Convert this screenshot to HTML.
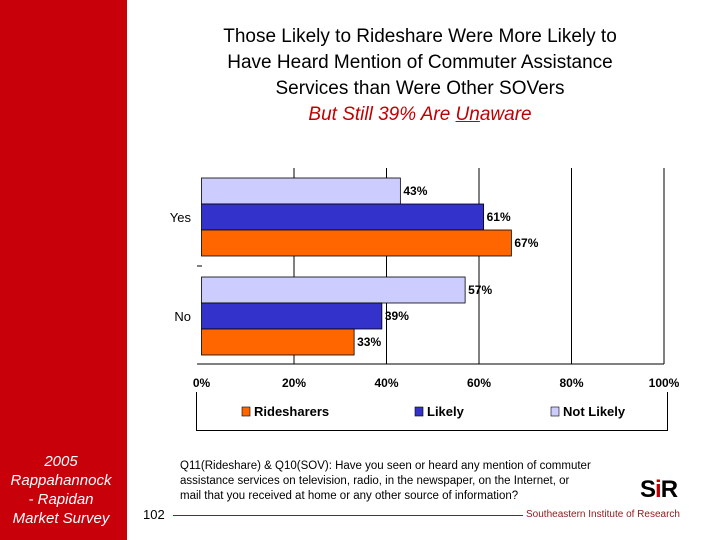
<!DOCTYPE html>
<html><head><meta charset="utf-8"><style>
body{margin:0;width:720px;height:540px;background:#fff;position:relative;overflow:hidden;font-family:"Liberation Sans",sans-serif}
.abs{position:absolute}
</style></head><body>
<div class="abs" style="left:0;top:0;width:127px;height:540px;background:#c8000a"></div>
<div class="abs" style="left:0;top:452px;width:122px;text-align:center;color:#fff;font-style:italic;font-size:15px;line-height:19px">2005<br>Rappahannock<br>- Rapidan<br>Market Survey</div>
<div class="abs" style="left:120px;top:24px;width:600px;text-align:center;font-size:19px;line-height:26px;color:#000">Those Likely to Rideshare Were More Likely to<br>Have Heard Mention of Commuter Assistance<br>Services than Were Other SOVers<br><span style="color:#c00000;font-style:italic">But Still 39% Are <u>Un</u>aware</span></div>
<svg class="abs" style="left:0;top:0" width="720" height="540" id="chart"></svg>
<div class="abs" style="left:180px;top:459px;width:460px;font-size:11.5px;line-height:15px;color:#000;white-space:nowrap">Q11(Rideshare) &amp; Q10(SOV): Have you seen or heard any mention of commuter<br>assistance services on television, radio, in the newspaper, on the Internet, or<br>mail that you received at home or any other source of information?</div>
<div class="abs" style="left:143px;top:507px;font-size:13px;color:#000">102</div>
<div class="abs" style="left:173px;top:515px;width:350px;height:1px;background:#8b1a1a"></div>
<div class="abs" style="left:526px;top:509px;font-size:10px;color:#8b1a1a">Southeastern Institute of Research</div>
<div class="abs" style="left:640px;top:476px;font-size:24px;font-weight:bold;color:#000;letter-spacing:-1px">S<span style="color:#c00000">i</span>R</div>
<script>
const categories=["Yes","No"];
const seriesNames=["Not Likely","Likely","Rideshares"];
const notLikely=[43,57];
const likely=[61,39];
const ridesharers=[67,33];
const ticks=[0,20,40,60,80,100];
const svg=document.getElementById('chart');
const NS='http://www.w3.org/2000/svg';
const x0=201.5,x1=664,yTop=168,yBot=364;
const xs=v=>x0+(x1-x0)*v/100;
function el(t,a){const e=document.createElementNS(NS,t);for(const k in a)e.setAttribute(k,a[k]);svg.appendChild(e);return e;}
ticks.forEach((t,i)=>{
 if(t>0){const g=el('line',{x1:xs(t),x2:xs(t),y1:yTop,y2:yBot,stroke:'#000','stroke-width':1});
 
 }
 const tx=el('text',{x:xs(t),y:387,'text-anchor':'middle','font-size':12,'font-weight':'bold','font-family':'Liberation Sans'});
 tx.textContent=t+'%';
 
 
});
const ax=el('line',{x1:197,x2:x1,y1:yBot,y2:yBot,stroke:'#000','stroke-width':1});


const tick=el('line',{x1:197,x2:202,y1:266,y2:266,stroke:'#000'});


const groupTop=[178,277],bh=26;
const series=[[notLikely,'#ccccff'],[likely,'#3333cc'],[ridesharers,'#ff6600']];
categories.forEach((c,ci)=>{
 const lab=el('text',{x:191,y:groupTop[ci]+bh*1.5+5,'text-anchor':'end','font-size':13,'font-family':'Liberation Sans'});
 lab.textContent=c;
 
 
 series.forEach((s,si)=>{
  const v=s[0][ci],y=groupTop[ci]+si*bh;
  const r=el('rect',{x:x0,y:y,width:xs(v)-x0,height:bh,fill:s[1],stroke:'#000','stroke-width':0.8});
  
  
  const t=el('text',{x:xs(v)+3,y:y+bh/2+4,'font-size':12,'font-weight':'bold','font-family':'Liberation Sans'});
  t.textContent=v+'%';
  
  
 });
});
const lg=el('path',{d:'M196.5 392 V430.5 H667.5 V392',fill:'none',stroke:'#000'});


const legend=[['Ridesharers','#ff6600',242],['Likely','#3333cc',415],['Not Likely','#ccccff',551]];
legend.forEach(l=>{
 const r=el('rect',{x:l[2],y:407,width:8,height:9,fill:l[1],stroke:'#000','stroke-width':0.6});
 
 
 const t=el('text',{x:l[2]+12,y:416,'font-size':13,'font-weight':'bold','font-family':'Liberation Sans'});
 t.textContent=l[0];
 
 
});
</script>
</body></html>
